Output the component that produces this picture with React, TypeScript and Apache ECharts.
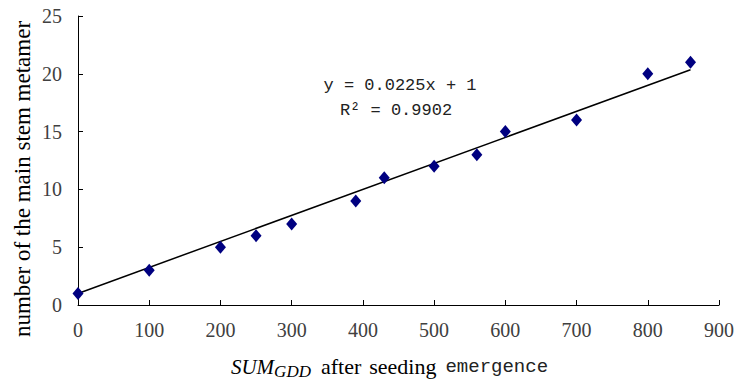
import React, { useEffect, useRef } from "react";
import * as echarts from "echarts";

const gddValues = [0, 100, 200, 250, 300, 390, 430, 500, 560, 600, 700, 800, 860];
const metamerCounts = [1, 3, 5, 6, 7, 9, 11, 12, 13, 15, 16, 20, 21];
const trendX = [0, 860];
const trendY = [1, 20.35];
const equationLines = ["y = 0.0225x + 1", "R² = 0.9902"];
const yTitle = "number of the main stem metamer";

export default function App() {
  const ref = useRef<HTMLDivElement>(null);
  useEffect(() => {
    if (!ref.current) return;
    const chart = echarts.init(ref.current, null, { renderer: "svg" });
    const serif = "'Liberation Serif', 'Times New Roman', serif";
    chart.setOption({
      animation: false,
      backgroundColor: "#fff",
      textStyle: { fontFamily: serif },
      grid: { left: 78, right: 17, top: 16, bottom: 69, containLabel: false },
      xAxis: {
        type: "value",
        min: 0,
        max: 900,
        interval: 100,
        splitLine: { show: false },
        axisLine: { lineStyle: { color: "#000", width: 1 } },
        axisTick: { inside: true, length: 5, lineStyle: { color: "#000" } },
        axisLabel: { fontFamily: serif, fontSize: 20, color: "#404040", margin: 15 },
        name: "{i|SUM}{s|GDD}{a|after}{b|seeding}{m|emergence}",
        nameLocation: "middle",
        nameGap: 48,
        nameTextStyle: {
          padding: [0, 18, 0, 0],
          rich: {
            i: { fontFamily: serif, fontStyle: "italic", fontSize: 21, color: "#000" },
            s: { fontFamily: serif, fontStyle: "italic", fontSize: 17, color: "#000", verticalAlign: "bottom", padding: [10, 0, 0, 0] },
            a: { fontFamily: serif, fontSize: 22, color: "#000", padding: [0, 0, 0, 10] },
            b: { fontFamily: serif, fontSize: 22, color: "#000", padding: [0, 0, 0, 8] },
            m: { fontFamily: "'Liberation Mono', monospace", fontSize: 19, color: "#222", padding: [0, 0, 0, 9] },
          },
        },
      },
      yAxis: {
        type: "value",
        min: 0,
        max: 25,
        interval: 5,
        splitLine: { show: false },
        axisLine: { lineStyle: { color: "#000", width: 1 } },
        axisTick: { inside: true, length: 5, lineStyle: { color: "#000" } },
        axisLabel: { fontFamily: serif, fontSize: 20, color: "#404040", margin: 16 },
      },
      series: [
        {
          type: "line",
          data: trendX.map((x, i) => [x, trendY[i]]),
          showSymbol: false,
          symbol: "none",
          lineStyle: { color: "#000", width: 1.5 },
          z: 2,
        },
        {
          type: "scatter",
          data: gddValues.map((x, i) => [x, metamerCounts[i]]),
          symbol: "diamond",
          symbolSize: [11, 13],
          itemStyle: { color: "#000080", opacity: 1 },
          z: 3,
        },
      ],
      graphic: [
        {
          type: "text",
          x: 22,
          y: 179,
          rotation: Math.PI / 2,
          style: {
            text: yTitle,
            font: "23px 'Liberation Serif'",
            fill: "#000",
            textAlign: "center",
            textVerticalAlign: "middle",
          },
        },
        {
          type: "text",
          x: 400,
          y: 85,
          style: {
            text: equationLines[0],
            font: "17px 'Liberation Mono'",
            fill: "#222",
            textAlign: "center",
            textVerticalAlign: "middle",
          },
        },
        {
          type: "text",
          x: 396,
          y: 110,
          style: {
            text: equationLines[1],
            font: "17px 'Liberation Mono'",
            fill: "#222",
            textAlign: "center",
            textVerticalAlign: "middle",
          },
        },
      ],
    });
    return () => chart.dispose();
  }, []);
  return <div ref={ref} style={{ width: 737, height: 385, position: "absolute", left: 0, top: 0 }} />;
}
